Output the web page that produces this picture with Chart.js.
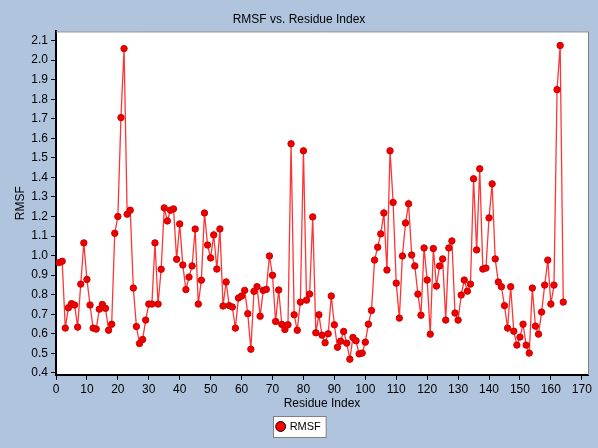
<!DOCTYPE html>
<html>
<head>
<meta charset="utf-8">
<script src="https://cdn.jsdelivr.net/npm/chart.js@4/dist/chart.umd.min.js"></script>
<style>
  html, body { margin: 0; padding: 0; background: #b0c4de; }
  canvas { display: block; }
</style>
</head>
<body>
<canvas id="rmsfChart" width="598" height="448"></canvas>
<script>
// RMSF per residue (residues start at 1)
const rmsf = [
    0.964, 0.971, 0.629, 0.733, 0.754, 0.747, 0.634, 0.854, 1.065, 0.878,
    0.747, 0.629, 0.624, 0.726, 0.750, 0.730, 0.618, 0.649, 1.114, 1.200,
    1.706, 2.059, 1.212, 1.232, 0.834, 0.637, 0.550, 0.571, 0.670, 0.752,
    0.752, 1.065, 0.752, 0.930, 1.244, 1.177, 1.232, 1.239, 0.981, 1.162,
    0.952, 0.826, 0.890, 0.947, 1.136, 0.752, 0.874, 1.218, 1.054, 0.988,
    1.106, 0.931, 1.136, 0.742, 0.865, 0.744, 0.737, 0.629, 0.783, 0.793,
    0.822, 0.703, 0.521, 0.817, 0.841, 0.690, 0.822, 0.827, 0.998, 0.899,
    0.663, 0.824, 0.648, 0.622, 0.646, 1.572, 0.697, 0.618, 0.762, 1.536,
    0.772, 0.803, 1.198, 0.605, 0.697, 0.593, 0.554, 0.600, 0.793, 0.646,
    0.531, 0.562, 0.612, 0.552, 0.470, 0.581, 0.564, 0.497, 0.501, 0.557,
    0.649, 0.719, 0.977, 1.043, 1.111, 1.218, 0.926, 1.536, 1.272, 0.859,
    0.680, 0.998, 1.167, 1.265, 1.003, 0.947, 0.803, 0.695, 1.039, 0.875,
    0.598, 1.036, 0.844, 0.947, 0.983, 0.670, 1.039, 1.075, 0.706, 0.670,
    0.798, 0.875, 0.818, 0.854, 1.393, 1.029, 1.444, 0.931, 0.936, 1.193,
    1.367, 0.983, 0.865, 0.841, 0.744, 0.629, 0.841, 0.613, 0.542, 0.583,
    0.649, 0.542, 0.501, 0.834, 0.639, 0.598, 0.711, 0.849, 0.977, 0.752,
    0.849, 1.849, 2.075, 0.762
];
const residues = rmsf.map((_, i) => i + 1);

const xTicks = [0, 10, 20, 30, 40, 50, 60, 70, 80, 90, 100, 110, 120, 130, 140, 150, 160, 170];
const yTicks = [0.4, 0.5, 0.6, 0.7, 0.8, 0.9, 1.0, 1.1, 1.2, 1.3, 1.4, 1.5, 1.6, 1.7, 1.8, 1.9, 2.0, 2.1];

const FONT = "'Liberation Sans', Arial, sans-serif";

// white plot area, grey frame on top/right, box around the legend
const plotFrame = {
    id: 'plotFrame',
    beforeDraw(chart) {
        const { ctx, chartArea: a } = chart;
        ctx.save();
        ctx.fillStyle = '#ffffff';
        ctx.fillRect(a.left, a.top, a.right - a.left, a.bottom - a.top);
        ctx.restore();
    },
    afterDraw(chart) {
        const { ctx, chartArea: a } = chart;
        ctx.save();
        ctx.strokeStyle = '#808080';
        ctx.lineWidth = 1;
        ctx.beginPath();
        ctx.moveTo(a.left, a.top + 0.5);
        ctx.lineTo(a.right + 0.5, a.top + 0.5);
        ctx.lineTo(a.right + 0.5, a.bottom);
        ctx.stroke();

        const hb = chart.legend.legendHitBoxes[0];
        if (hb) {
            ctx.fillStyle = '#ffffff';
            ctx.strokeStyle = '#808080';
            const x = Math.round(hb.left - 4) + 0.5, y = Math.round(hb.top + hb.height / 2 - 11) + 0.5;
            ctx.globalCompositeOperation = 'destination-over';
            ctx.fillRect(x, y, hb.width + 9, 21);
            ctx.globalCompositeOperation = 'source-over';
            ctx.strokeRect(x, y, hb.width + 9, 21);
        }
        ctx.restore();
    }
};

new Chart(document.getElementById('rmsfChart').getContext('2d'), {
    type: 'line',
    data: {
        labels: residues,
        datasets: [{
            label: 'RMSF',
            data: residues.map((r, i) => ({ x: r, y: rmsf[i] })),
            borderColor: '#ff3535',
            borderWidth: 1.3,
            pointRadius: 3.2,
            pointBorderWidth: 1,
            pointBackgroundColor: '#ee0000',
            pointBorderColor: '#d00000',
            tension: 0,
            fill: false
        }]
    },
    options: {
        responsive: false,
        animation: false,
        devicePixelRatio: 1,
        layout: { padding: { left: 0, right: 0, top: 0, bottom: 6 } },
        plugins: {
            title: {
                display: true,
                text: 'RMSF vs. Residue Index',
                color: '#000',
                font: { family: FONT, size: 12, weight: 'normal' },
                padding: { top: 12, bottom: 5 }
            },
            legend: {
                position: 'bottom',
                labels: {
                    color: '#000',
                    font: { family: FONT, size: 11 },
                    usePointStyle: true,
                    pointStyle: 'circle',
                    boxWidth: 7,
                    boxHeight: 7,
                    padding: 6,
                    generateLabels: chart => Chart.defaults.plugins.legend.labels.generateLabels(chart)
                        .map(l => Object.assign(l, { fillStyle: '#ff0000', strokeStyle: '#000', lineWidth: 1 }))
                }
            },
            tooltip: { enabled: false }
        },
        scales: {
            x: {
                type: 'linear',
                min: 0,
                max: 172,
                afterBuildTicks: s => { s.ticks = xTicks.map(v => ({ value: v })); },
                afterFit: s => { s.height = 40; },
                grid: { drawOnChartArea: false, drawTicks: true, tickLength: 5, color: '#000' },
                border: { color: '#000', width: 2 },
                ticks: { color: '#000', font: { family: FONT, size: 12 }, padding: 2, maxRotation: 0 },
                title: {
                    display: true, text: 'Residue Index', color: '#000',
                    font: { family: FONT, size: 12 }, padding: { top: 0, bottom: 4 }
                }
            },
            y: {
                type: 'linear',
                min: 0.389,
                max: 2.147,
                afterBuildTicks: s => { s.ticks = yTicks.map(v => ({ value: v })); },
                afterFit: s => { s.width = 56; },
                grid: { drawOnChartArea: false, drawTicks: true, tickLength: 5, color: '#000' },
                border: { color: '#000', width: 2 },
                ticks: {
                    color: '#000', font: { family: FONT, size: 12 }, padding: 3,
                    callback: v => v.toFixed(1)
                },
                title: {
                    display: true, text: 'RMSF', color: '#000',
                    font: { family: FONT, size: 12 }, padding: { top: 13, bottom: 0 }
                }
            },
            // empty right-hand axis only reserves the margin, so title and legend centre on the page
            yRight: {
                type: 'linear',
                position: 'right',
                min: 0.389,
                max: 2.147,
                afterFit: s => { s.width = 10; },
                grid: { display: false },
                border: { display: false },
                ticks: { display: false }
            }
        }
    },
    plugins: [plotFrame]
});
</script>
</body>
</html>
